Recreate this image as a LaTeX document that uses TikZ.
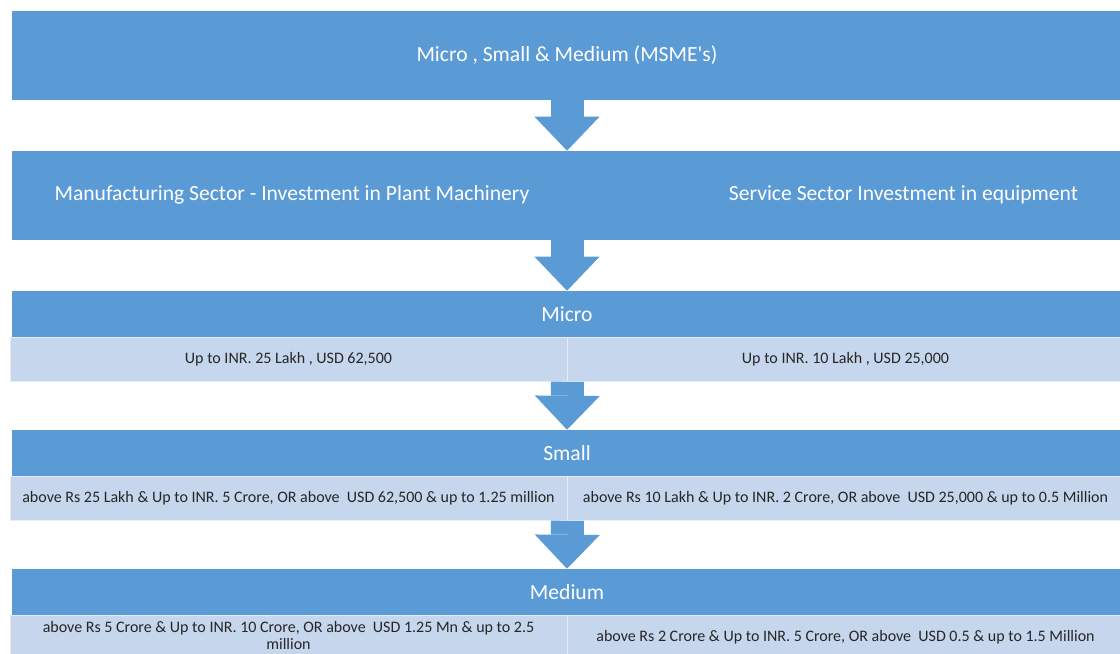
\documentclass[tikz,border=0pt]{standalone}
\usepackage{fontspec}
\setmainfont{Carlito}
\usetikzlibrary{arrows.meta}
\definecolor{msblue}{RGB}{91,155,213}
\definecolor{rowblue}{RGB}{198,214,236}

\begin{document}
\begin{tikzpicture}[x=0.75pt,y=-0.75pt,
    band/.style={fill=msblue, text=white, minimum width=832.5pt, inner sep=0pt, font=\fontsize{16.2}{18}\selectfont},
    cell/.style={fill=rowblue, draw=white!55!rowblue, line width=0.6pt, minimum width=417.75pt, minimum height=33pt, inner sep=0pt, align=center, text=black!85, font=\fontsize{12}{12.75}\selectfont},
    fatarrow/.style={draw=msblue, line width=24.75pt, -{Triangle[width=48.75pt,length=25.5pt,line width=0pt]}}]
    \clip (0,0) rectangle (1120,653);

    % Top bands
    \node[band, minimum height=66.75pt] (msme) at (567,55.5) {Micro , Small \& Medium (MSME\textquotesingle s)};
    \node[band, minimum height=66.75pt] (sector) at (567,195.5) {};
    \node[text=white, font=\fontsize{16.2}{18}\selectfont] (manuf) at (292,195) {Manufacturing Sector - Investment in Plant Machinery};
    \node[text=white, font=\fontsize{16.2}{18}\selectfont] (service) at (903.5,195) {Service Sector Investment in equipment};

    % Size classes
    \foreach \name/\label/\y in {micro/Micro/314, small/Small/453, medium/Medium/592} {
        \node[band, minimum height=34.5pt] (\name) at (567,\y) {\label};
    }

    % Limits, manufacturing | service
    \node[cell, anchor=north] (microL) at (288.5,337) {Up to INR. 25 Lakh , USD 62,500};
    \node[cell, anchor=north] (microR) at (845.5,337) {Up to INR. 10 Lakh , USD 25,000};
    \node[cell, anchor=north] (smallL) at (288.5,476) {above Rs 25 Lakh \& Up to INR. 5 Crore, OR above\ \ USD 62,500 \& up to 1.25 million};
    \node[cell, anchor=north] (smallR) at (845.5,476) {above Rs 10 Lakh \& Up to INR. 2 Crore, OR above\ \ USD 25,000 \& up to 0.5 Million};
    \node[cell, anchor=north, minimum height=30pt] (mediumL) at (288.5,615) {above Rs 5 Crore \& Up to INR. 10 Crore, OR above\ \ USD 1.25 Mn \& up to 2.5\\million};
    \node[cell, anchor=north] (mediumR) at (845.5,615) {above Rs 2 Crore \& Up to INR. 5 Crore, OR above\ \ USD 0.5 \& up to 1.5 Million};

    % Block arrows
    \draw[fatarrow] (msme.south) -- (sector.north);
    \draw[fatarrow] (sector.south) -- (micro.north);
    \draw[fatarrow] (microL.south east) -- (small.north);
    \draw[fatarrow] (smallL.south east) -- (medium.north);
\end{tikzpicture}
\end{document}
